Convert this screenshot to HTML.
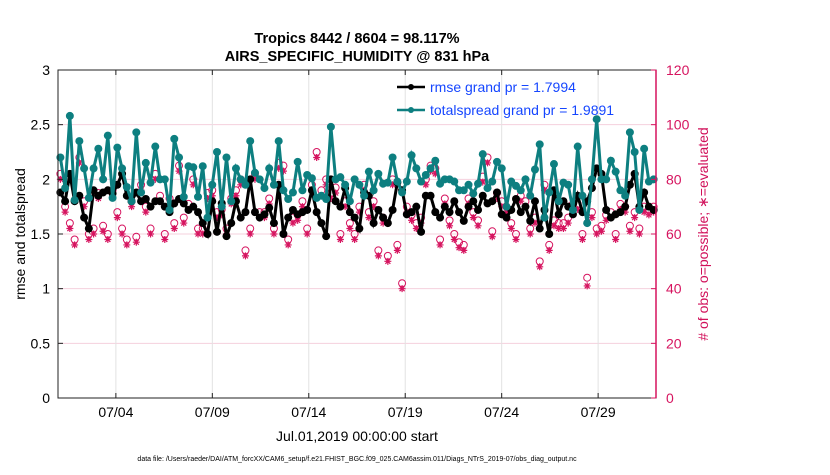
<!DOCTYPE html>
<html><head><meta charset="utf-8"><style>
body{margin:0;background:#fff;}
svg text{font-family:"Liberation Sans",sans-serif;}
</style></head><body>
<svg id="chart" width="830" height="470" xmlns="http://www.w3.org/2000/svg">
<text x="357" y="43" text-anchor="middle" font-size="14.5" font-weight="bold">Tropics 8442 / 8604 = 98.117%</text>
<text x="357" y="61" text-anchor="middle" font-size="14.5" font-weight="bold">AIRS_SPECIFIC_HUMIDITY @ 831 hPa</text>
<g id="grid"></g>
<g id="obs"></g>
<g id="series"></g>
<g id="axes"></g>
<text transform="translate(25,234) rotate(-90)" text-anchor="middle" font-size="14">rmse and totalspread</text>
<text transform="translate(708,234) rotate(-90)" text-anchor="middle" font-size="14" fill="#d1105a"># of obs: o=possible; ∗=evaluated</text>
<text x="357" y="441" text-anchor="middle" font-size="14">Jul.01,2019 00:00:00 start</text>
<text x="357" y="461" text-anchor="middle" font-size="7">data file: /Users/raeder/DAI/ATM_forcXX/CAM6_setup/f.e21.FHIST_BGC.f09_025.CAM6assim.011/Diags_NTrS_2019-07/obs_diag_output.nc</text>
<g>
<line x1="397" y1="87" x2="425" y2="87" stroke="#000" stroke-width="2.5"/><circle cx="411" cy="87" r="3" fill="#000"/>
<text x="430" y="92" font-size="14" fill="#1546ff">rmse grand pr = 1.7994</text>
<line x1="397" y1="110" x2="425" y2="110" stroke="#0d7f80" stroke-width="2.5"/><circle cx="411" cy="110" r="3" fill="#0d7f80"/>
<text x="430" y="115" font-size="14" fill="#1546ff">totalspread grand pr = 1.9891</text>
</g>
</svg>
<script>
const xTickLabels=["07/04","07/09","07/14","07/19","07/24","07/29"];
const xTickDays=[3,8,13,18,23,28];
const yTicks=[0,0.5,1,1.5,2,2.5,3];
const rTicks=[0,20,40,60,80,100,120];
const spread=[2.2,1.92,2.58,1.81,2.35,2.1,1.83,2.1,2.28,2.0,2.4,1.83,2.29,2.1,1.93,1.8,2.43,1.88,2.15,1.97,2.3,2.0,2.0,1.72,2.37,2.2,1.84,2.12,2.11,1.84,2.12,1.65,
1.95,2.25,1.75,2.2,1.8,2.1,2.0,1.95,2.35,2.06,2.0,1.92,2.1,1.95,2.35,1.9,1.82,1.88,2.16,1.9,2.04,2.01,1.83,1.85,1.82,2.48,2.0,2.02,1.95,1.8,2.0,1.95,
1.85,2.07,1.9,2.05,1.96,1.97,2.2,1.98,1.88,1.98,2.22,2.1,1.98,2.04,2.1,2.17,1.96,2.0,2.0,1.98,1.9,1.9,1.95,1.87,1.96,2.23,1.92,1.98,2.16,2.1,1.75,1.98,
1.94,1.9,2.0,1.85,2.09,2.32,1.65,1.88,2.14,1.8,1.97,1.95,1.72,2.3,1.85,1.6,2.0,2.55,2.0,2.0,2.17,2.07,1.9,1.85,2.43,2.25,1.72,2.28,1.98,2.0];
const rmse=[1.88,1.8,2.05,1.8,1.85,1.65,1.55,1.9,1.85,1.88,1.9,1.87,1.95,2.05,1.85,1.8,1.88,1.8,1.82,1.75,1.8,1.8,1.75,1.7,1.78,1.82,1.78,1.72,1.75,1.7,1.6,1.5,
1.8,1.52,1.78,1.48,1.6,1.8,1.65,1.7,2.0,1.7,1.65,1.68,1.74,1.6,1.95,1.5,1.65,1.72,1.68,1.7,1.72,1.9,1.7,1.6,1.48,2.0,1.8,1.75,1.92,1.7,1.65,1.55,
1.88,1.85,1.6,1.72,1.65,1.6,1.72,1.97,1.9,1.68,1.7,1.75,1.52,1.85,1.85,1.7,1.65,1.75,1.7,1.8,1.7,1.62,1.75,1.8,1.72,1.85,1.78,1.8,1.88,1.68,1.65,1.72,
1.82,1.7,1.75,1.62,1.8,1.55,1.72,1.5,1.9,1.68,1.8,1.75,1.68,1.85,1.7,1.8,1.92,2.1,2.05,1.72,1.65,1.68,1.7,1.75,1.95,2.05,1.75,1.88,1.75,1.72];
const possible=[82,70,64,58,88,72,60,62,75,63,60,76,68,62,58,72,59,78,70,62,82,74,60,73,64,85,66,71,80,62,62,75,
76,68,69,62,73,76,80,54,62,82,68,68,73,62,86,85,58,66,67,72,62,78,90,76,80,75,77,60,72,64,60,70,
78,68,72,54,66,52,80,56,42,70,67,64,66,80,85,84,58,73,65,60,57,56,73,68,65,81,88,61,75,72,70,64,
60,74,72,62,66,50,78,56,65,64,64,66,71,71,60,44,68,62,63,67,68,60,71,70,63,68,62,70,69,70];
const evaluated=[80,68,62,56,86,70,58,60,73,61,58,74,66,60,56,70,57,76,68,60,80,72,58,71,62,83,64,69,78,60,60,73,
74,66,67,60,71,74,78,52,60,80,66,66,71,60,84,83,56,64,65,70,60,76,88,74,78,73,75,58,70,62,58,68,
76,66,70,52,64,50,78,54,40,68,65,62,64,78,83,82,56,71,63,58,55,54,71,66,63,79,86,59,73,70,68,62,
58,72,70,60,64,48,76,54,63,62,62,64,69,69,58,41,66,60,61,65,66,58,69,68,61,66,60,68,67,68];
const NS="http://www.w3.org/2000/svg";
const L=58,R=656,T=70,B=398,days=31;
const x=d=>L+d/days*(R-L);
const y=v=>B-v/3*(B-T);
const yr=v=>B-v/120*(B-T);
function mk(g,tag,attrs){const e=document.createElementNS(NS,tag);for(const k in attrs)e.setAttribute(k,attrs[k]);document.getElementById(g).appendChild(e);return e;}
yTicks.forEach(v=>{if(v>0&&v<3){const e=mk('grid','line',{x1:L,x2:R,y1:y(v),y2:y(v),stroke:'#f5d0dd','stroke-width':1});

}});
xTickDays.forEach((d,i)=>{const e=mk('grid','line',{x1:x(d),x2:x(d),y1:T,y2:B,stroke:'#e2e2e2','stroke-width':1});

});
const n=spread.length, dt=days/n;
possible.forEach((p,i)=>{const c=mk('obs','circle',{cx:x((i+0.5)*dt),cy:yr(p),r:3.5,fill:'none',stroke:'#d6145f','stroke-width':1});

});
evaluated.forEach((p,i)=>{const cx=x((i+0.5)*dt),cy=yr(p);
const g=mk('obs','path',{d:`M${cx-3.5},${cy}h7M${cx},${cy-3.5}v7M${cx-2.5},${cy-2.5}l5,5M${cx-2.5},${cy+2.5}l5,-5`,stroke:'#d6145f','stroke-width':1.2,fill:'none'});

});
function series(vals,color,name){const pts=vals.map((v,i)=>x((i+0.5)*dt)+','+y(v)).join(' ');
const pl=mk('series','polyline',{points:pts,fill:'none',stroke:color,'stroke-width':3});


vals.forEach((v,i)=>{const c=mk('series','circle',{cx:x((i+0.5)*dt),cy:y(v),r:4,fill:color});

});}
series(rmse,'#000','rmse');
series(spread,'#0d7f80','totalspread');
const fr=mk('axes','rect',{x:L,y:T,width:R-L,height:B-T,fill:'none',stroke:'#222','stroke-width':1});


mk('axes','line',{x1:R,x2:R,y1:T,y2:B,stroke:'#d6145f','stroke-width':1.5});
yTicks.forEach(v=>{mk('axes','line',{x1:L,x2:L+5,y1:y(v),y2:y(v),stroke:'#222'});
const t=mk('axes','text',{x:L-8,y:y(v)+5,'text-anchor':'end','font-size':14});t.textContent=String(v);

});
rTicks.forEach(v=>{mk('axes','line',{x1:R-5,x2:R,y1:yr(v),y2:yr(v),stroke:'#d6145f'});
const t=mk('axes','text',{x:R+10,y:yr(v)+5,'font-size':14,fill:'#d6145f'});t.textContent=String(v);

});
xTickDays.forEach((d,i)=>{mk('axes','line',{x1:x(d),x2:x(d),y1:B-5,y2:B,stroke:'#222'});mk('axes','line',{x1:x(d),x2:x(d),y1:T,y2:T+5,stroke:'#222'});
const t=mk('axes','text',{x:x(d),y:B+19,'text-anchor':'middle','font-size':14});t.textContent=xTickLabels[i];

});
</script>
</body></html>
